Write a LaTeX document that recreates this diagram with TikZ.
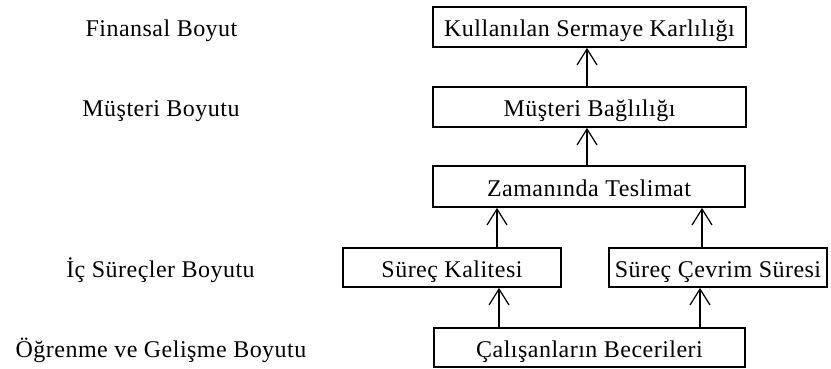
\documentclass[tikz,border=0pt]{standalone}
\usepackage{fontspec}
\setmainfont{Liberation Serif}[LetterSpace=2]
\usetikzlibrary{arrows.meta}
\begin{document}
\begin{tikzpicture}[x=1pt,y=-1pt,
  txt/.style={font=\fontsize{24}{27}\selectfont, inner sep=0pt,
    text height=22pt, text depth=2pt},
  box/.style={txt, draw, line width=1.8pt, minimum height=40pt},
  lbl/.style={txt},
  up/.style={line width=1.2pt, -{Straight Barb[length=16pt,width=20pt,line width=1.2pt]}}]
\useasboundingbox (0,0) rectangle (831,369);

% perspective labels
\node[lbl] (lfin) at (161.5,27)  {Finansal Boyut};
\node[lbl] (lmus) at (161,107)   {Müşteri Boyutu};
\node[lbl] (lic)  at (160.5,267.5) {İç Süreçler Boyutu};
\node[lbl] (logr) at (161,347.5) {Öğrenme ve Gelişme Boyutu};

% measures
\node[box, minimum width=313pt] (kar) at (589.5,27)  {Kullanılan Sermaye Karlılığı};
\node[box, minimum width=313pt] (bag) at (589.5,107) {Müşteri Bağlılığı};
\node[box, minimum width=312pt, minimum height=41pt] (zam) at (589,186.5) {Zamanında Teslimat};
\node[box, minimum width=218pt, minimum height=39pt] (kal) at (452,267.5) {Süreç Kalitesi};
\node[box, minimum width=218pt, minimum height=39pt] (cev) at (718,267.5) {Süreç Çevrim Süresi};
\node[box, minimum width=311pt, minimum height=39pt] (cal) at (589.5,347.5) {Çalışanların Becerileri};

% cause-and-effect links
\draw[up] ([xshift=-2.5pt]bag.north) -- ([xshift=-2.5pt]bag.north |- kar.south);
\draw[up] ([xshift=-2pt]zam.north) -- ([xshift=-2pt]zam.north |- bag.south);
\draw[up] ([xshift=45pt]kal.north) -- ([xshift=45pt]kal.north |- zam.south);
\draw[up] ([xshift=-16pt]cev.north) -- ([xshift=-16pt]cev.north |- zam.south);
\draw[up] ([xshift=47pt]kal.south |- cal.north) -- ([xshift=47pt]kal.south);
\draw[up] ([xshift=-18pt]cev.south |- cal.north) -- ([xshift=-18pt]cev.south);
\end{tikzpicture}
\end{document}
